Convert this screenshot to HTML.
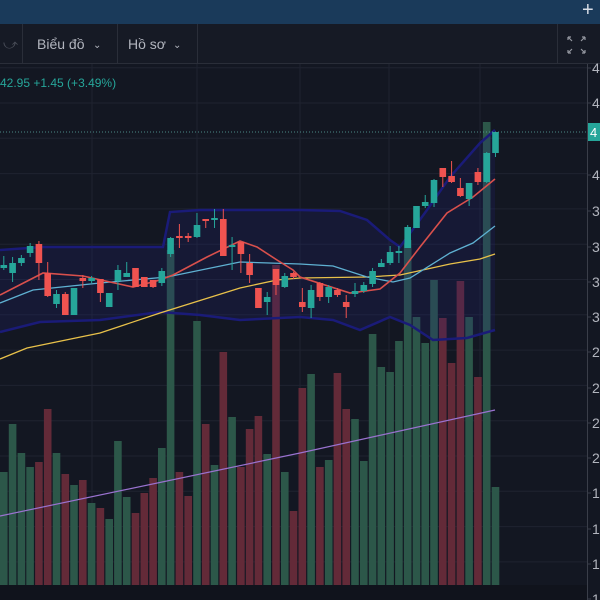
<!DOCTYPE html>
<html><head><meta charset="utf-8">
<style>
html,body{margin:0;padding:0;background:#131722;width:600px;height:600px;overflow:hidden;font-family:"Liberation Sans",sans-serif}
</style></head>
<body>
<svg id="s" width="600" height="600" xmlns="http://www.w3.org/2000/svg" style="position:absolute;left:0;top:0">
<rect x="0" y="0" width="600" height="600" fill="#131722"/>
<rect x="0" y="0" width="600" height="24" fill="#1a3a5a"/>
<text x="582" y="16" font-size="20" fill="#d8dde6" font-family="Liberation Sans">+</text>
<rect x="0" y="24" width="600" height="40" fill="#161a25"/>
<line x1="0" y1="63.5" x2="600" y2="63.5" stroke="#2a2e39"/>
<line x1="22.5" y1="24" x2="22.5" y2="63" stroke="#2a2e39"/>
<line x1="117.5" y1="24" x2="117.5" y2="63" stroke="#2a2e39"/>
<line x1="197.5" y1="24" x2="197.5" y2="63" stroke="#2a2e39"/>
<line x1="557.5" y1="24" x2="557.5" y2="63" stroke="#2a2e39"/>
<text x="3" y="49" font-size="14" fill="#4a4e59">⤻</text>
<text x="37" y="49" font-size="14" fill="#b2b5be" font-family="Liberation Sans">Biểu đồ</text>
<text x="93" y="48" font-size="10" fill="#b2b5be">⌄</text>
<text x="128" y="49" font-size="14" fill="#b2b5be" font-family="Liberation Sans">Hồ sơ</text>
<text x="173" y="48" font-size="10" fill="#b2b5be">⌄</text>
<g stroke="#9598a1" stroke-width="1.2" fill="none">
<path d="M568 37 l4 4 M568 37 h3 M568 37 v3"/><path d="M585 37 l-4 4 M585 37 h-3 M585 37 v3"/>
<path d="M568 53 l4 -4 M568 53 h3 M568 53 v-3"/><path d="M585 53 l-4 -4 M585 53 h-3 M585 53 v-3"/>
</g>
<g id="grid"></g>
<g id="vol"></g>
<g id="bb"></g>
<g id="lines"></g>
<g id="cand"></g>
<line x1="0" y1="132" x2="588" y2="132" stroke="#5aa79f" stroke-width="1" stroke-dasharray="1,2" opacity="0.8"/>
<rect x="0" y="585" width="588" height="15" fill="#10131c"/>
<line x1="587.5" y1="64" x2="587.5" y2="600" stroke="#3a3e49"/>
<g id="axis"></g>
<rect x="588" y="123" width="12" height="18" fill="#26a69a"/>
<text x="590" y="137" font-size="13" fill="#fff" font-family="Liberation Sans">4</text>
<text x="0" y="87" font-size="12" fill="#26a69a" font-family="Liberation Sans">42.95  +1.45 (+3.49%)</text>
</svg>
<script>
var NS="http://www.w3.org/2000/svg";
function el(p,t,a){var e=document.createElementNS(NS,t);for(var k in a)e.setAttribute(k,a[k]);document.getElementById(p).appendChild(e);return e;}
for(var y=103-35.3;y<600;y+=35.3){el("grid","line",{x1:0,y1:y.toFixed(1),x2:588,y2:y.toFixed(1),stroke:"#1f2330","stroke-width":1});}
[92,197,300,389,480].forEach(function(x){el("grid","line",{x1:x,y1:64,x2:x,y2:585,stroke:"#1f2330","stroke-width":1});});
var labs=[[68,"4"],[103,"4"],[175,"4"],[211,"3"],[247,"3"],[282,"3"],[317,"3"],[352,"2"],[388,"2"],[423,"2"],[458,"2"],[493,"1"],[529,"1"],[564,"1"],[599,"1"]];
labs.forEach(function(l){el("axis","line",{x1:587,y1:l[0],x2:591,y2:l[0],stroke:"#3a3e49"});var t=el("axis","text",{x:592,y:l[0]+5,"font-size":14,fill:"#b2b5be","font-family":"Liberation Sans"});t.textContent=l[1];});
var vol=[[472,1],[424,1],[453,1],[467,1],[462,0],[409,0],[453,1],[474,0],[485,1],[480,0],[503,1],[508,0],[519,1],[441,1],[497,1],[513,0],[493,0],[478,0],[448,1],[250,1],[472,0],[496,0],[321,1],[424,0],[465,1],[352,0],[417,1],[467,0],[429,0],[416,0],[454,1],[265,0],[472,1],[511,0],[388,0],[374,1],[467,0],[460,1],[373,0],[409,0],[419,1],[461,1],[334,1],[367,1],[372,1],[341,1],[240,1],[317,1],[343,1],[280,1],[318,0],[363,0],[281,0],[317,1],[377,0],[122,1],[487,1]];
var P=8.78;
vol.forEach(function(v,i){var x=i*P;el("vol","rect",{x:x.toFixed(1),y:v[0],width:7.6,height:585-v[0],fill:v[1]?"#2c5749":"#632a38"});});
var up=[[0,250],[43,247],[163,247],[170,212],[200,210],[300,210],[340,211],[367,220],[390,240],[400,247],[427,210],[450,177],[480,143],[495,130]];
var lo=[[0,332],[40,322],[100,320],[160,312],[200,315],[240,320],[300,317],[333,320],[360,330],[390,317],[410,325],[433,340],[467,338],[495,330]];
function pts(a){return a.map(function(p){return p[0]+","+p[1];}).join(" ");}
el("bb","polygon",{points:pts(up)+" "+pts(lo.slice().reverse()),fill:"rgba(35,35,130,0.2)"});
el("bb","polyline",{points:pts(up),fill:"none",stroke:"#1a1b78","stroke-width":2.5});
el("bb","polyline",{points:pts(lo),fill:"none",stroke:"#1a1b78","stroke-width":2.5});
var red=[[0,295],[43,273],[83,276],[133,287],[160,280],[173,275],[207,257],[240,241],[257,247],[277,260],[293,270],[300,277],[350,293],[380,289],[400,273],[420,247],[447,213],[473,197],[495,179]];
var blu=[[0,303],[33,290],[100,283],[167,277],[240,262],[300,264],[333,266],[367,277],[393,282],[410,278],[450,253],[473,243],[495,226]];
var yel=[[0,359],[27,348],[100,333],[160,313],[240,288],[277,280],[300,278],[367,277],[400,275],[450,264],[480,259],[495,254]];
var pur=[[0,516],[300,453],[495,410]];
el("lines","polyline",{points:pts(pur),fill:"none",stroke:"#9a72d0","stroke-width":1.2});
el("lines","polyline",{points:pts(yel),fill:"none",stroke:"#e8c14a","stroke-width":1.3});
el("lines","polyline",{points:pts(blu),fill:"none",stroke:"#5fb1d2","stroke-width":1.3});
el("lines","polyline",{points:pts(red),fill:"none",stroke:"#d9504c","stroke-width":1.6});
var c=[[265,268,256,270,1],[263,273,257,282,1],[258,263,255,266,1],[246,253,243,257,1],[244,263,241,280,0],[273,296,262,297,0],[294,304,290,308,1],[294,315,292,315,0],[288,315,288,315,1],[278,281,275,288,0],[278,281,276,283,1],[279,293,279,302,0],[293,307,293,307,1],[270,281,265,290,1],[273,277,262,277,1],[268,287,268,287,0],[277,287,277,287,0],[280,287,280,288,0],[271,283,268,286,1],[238,254,237,257,1],[236,238,224,248,0],[236,238,233,242,0],[225,237,213,238,1],[219,221,219,228,0],[218,220,209,228,1],[219,256,209,256,0],[245,247,237,270,1],[242,254,242,273,0],[263,275,254,283,0],[288,308,288,308,0],[297,302,292,315,1],[269,285,269,295,0],[276,287,273,288,1],[273,277,272,279,0],[302,307,288,312,0],[290,308,285,318,1],[283,297,282,301,0],[287,297,285,303,1],[290,295,288,297,0],[302,307,295,318,0],[291,294,283,297,1],[285,291,282,293,1],[271,284,268,287,1],[263,267,259,267,1],[252,263,246,265,1],[251,253,246,263,1],[227,248,225,248,1],[206,228,206,228,1],[202,206,195,208,1],[180,203,179,207,1],[168,177,168,187,0],[176,182,161,183,0],[188,196,178,197,0],[183,199,183,206,1],[172,182,168,185,0],[153,182,152,183,1],[132,153,132,157,1]];
c.forEach(function(d,i){var cx=i*P+3.8;var col=d[4]?"#26a69a":"#ef5350";
el("cand","line",{x1:cx,y1:d[2],x2:cx,y2:d[3],stroke:col,"stroke-width":1});
el("cand","rect",{x:(cx-3.3).toFixed(1),y:d[0],width:6.6,height:Math.max(1.5,d[1]-d[0]),fill:col});});
</script>
</body></html>
